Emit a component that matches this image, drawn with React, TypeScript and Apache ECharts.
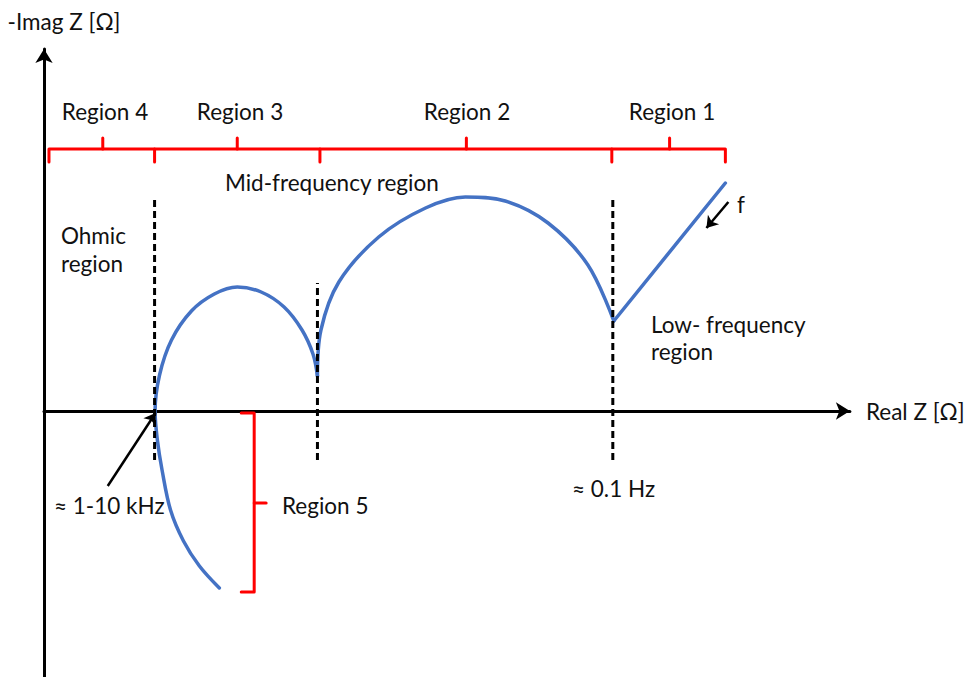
import React, { useEffect, useRef } from "react";
import * as echarts from "echarts";

// Nyquist schematic, units: arbitrary Ω (x = Real Z, y = -Imag Z)
const inductiveAndRegion3Arc: [number, number][] = [
  [176, -177], [156, -155], [140, -130], [127, -99], [118.5, -59], [113.8, -29], [111.5, 0],
  [116, 36], [128, 71], [148, 100], [171, 117], [194, 124], [218, 119], [241, 104], [259, 81], [270, 57], [274.5, 35],
];
const region2Arc: [number, number][] = [
  [274.5, 35], [278, 81], [296, 129], [336, 174], [383, 203], [423, 214], [463, 210], [506, 188], [546, 146], [572, 90],
];
const diffusionLine: [number, number][] = [[572, 90], [684, 228]];

const boundaryX = [111, 274.5, 571];
const boundaryTop = [213, 128, 215];
const boundaryBottom = -49;

// top bracket (regions 4,3,2,1)
const bracketLevel = 262;
const bracketDown = 249;
const bracketUp = 273;
const bracketEdges = [5, 111, 277, 570, 684];
const bracketCentres = [59, 194, 424, 628];
const regionNames = ["Region 4", "Region 3", "Region 2", "Region 1"];

// region 5 bracket
const r5X = 211;
const r5Top = -2;
const r5Bottom = -181;
const r5Left = 198;
const r5Mid = -92;
const r5Right = 223;

const khzArrow: [number, number][] = [[64, -75], [112, -2]];
const freqArrow: [number, number][] = [[687, 209], [665, 183]];

const X_MAX = 809;
const Y_MIN = -266;
const Y_MAX = 362;

const FONT = "Lato, 'Open Sans', sans-serif";
const FS = 22.5;
const TXT = "#111111";
const BLUE = "#4472C4";
const RED = "#FF0000";

function seg(data: [number, number][], color: string, width: number) {
  return {
    type: "line",
    data,
    symbol: "none",
    silent: true,
    lineStyle: { color, width, cap: "round", join: "round" },
  };
}

export default function App() {
  const ref = useRef<HTMLDivElement>(null);
  useEffect(() => {
    if (!ref.current) return;
    const chart = echarts.init(ref.current, undefined, { renderer: "svg" });

    const series: any[] = [];
    series.push({ ...seg(inductiveAndRegion3Arc, BLUE, 3.5), smooth: 0.35, z: 3 });
    series.push({ ...seg(region2Arc, BLUE, 3.5), smooth: 0.35, z: 3 });
    series.push({ ...seg(diffusionLine, BLUE, 3.5), z: 3 });
    boundaryX.forEach((x, i) => {
      series.push({
        type: "line",
        data: [[x, boundaryBottom], [x, boundaryTop[i]]],
        symbol: "none",
        silent: true,
        z: 4,
        lineStyle: { color: "#000", width: 3, type: [7, 4] },
      });
    });
    // top bracket
    series.push({
      ...seg([[bracketEdges[0], bracketDown], [bracketEdges[0], bracketLevel], [bracketEdges[4], bracketLevel], [bracketEdges[4], bracketDown]], RED, 3),
      z: 3,
    });
    bracketEdges.slice(1, 4).forEach((x) => {
      series.push({ ...seg([[x, bracketLevel], [x, bracketDown]], RED, 3), z: 3 });
    });
    bracketCentres.forEach((x) => {
      series.push({ ...seg([[x, bracketLevel], [x, bracketUp]], RED, 3), z: 3 });
    });
    // region 5 bracket
    series.push({ ...seg([[r5Left, r5Top], [r5X, r5Top], [r5X, r5Bottom], [r5Left, r5Bottom]], RED, 3), z: 3 });
    series.push({ ...seg([[r5X, r5Mid], [r5Right, r5Mid]], RED, 3), z: 3 });
    // arrows
    series.push({
      type: "line",
      data: [],
      silent: true,
      markLine: {
        silent: true,
        symbol: ["none", "arrow"],
        symbolSize: 11,
        label: { show: false },
        lineStyle: { color: "#000", width: 2.5, type: "solid" },
        data: [
          [{ coord: khzArrow[0] }, { coord: khzArrow[1] }],
          [{ coord: freqArrow[0] }, { coord: freqArrow[1] }],
        ],
      },
    });

    const text = (t: string, x: number, y: number, align: string = "left", extra: any = {}) => ({
      type: "text",
      x,
      y,
      silent: true,
      style: {
        text: t,
        fill: TXT,
        font: `${FS}px ${FONT}`,
        textAlign: align,
        textVerticalAlign: "middle",
        ...extra,
      },
    });

    const regionCentresPx = [105, 240, 467, 672];
    const graphic: any[] = [
      ...regionNames.map((n, i) => text(n, regionCentresPx[i], 111, "center")),
      text("Mid-frequency region", 225, 182),
      text("Ohmic\nregion", 61, 249, "left", { lineHeight: 28 }),
      text("Low- frequency\nregion", 651, 338, "left", { lineHeight: 27 }),
      text("≈ 1-10 kHz", 54, 505),
      text("≈ 0.1 Hz", 572, 488),
      text("Region 5", 282, 505),
      text("f", 737, 204),
    ];

    chart.setOption({
      animation: false,
      backgroundColor: "#ffffff",
      grid: { left: 44, right: 967 - 853, top: 49, bottom: 0, containLabel: false },
      xAxis: {
        type: "value",
        min: 0,
        max: X_MAX,
        name: "Real Z [Ω]",
        nameLocation: "end",
        nameGap: 16,
        nameTextStyle: { color: TXT, fontSize: FS, fontFamily: FONT, padding: [0, 0, 12, 0] },
        axisLine: { show: true, onZero: true, symbol: ["none", "arrow"], symbolSize: [13, 14], lineStyle: { color: "#000", width: 3 } },
        axisTick: { show: false },
        axisLabel: { show: false },
        splitLine: { show: false },
      },
      yAxis: {
        type: "value",
        min: Y_MIN,
        max: Y_MAX,
        name: "-Imag Z [Ω]",
        nameLocation: "end",
        nameGap: 16,
        nameTextStyle: { color: TXT, fontSize: FS, fontFamily: FONT, padding: [0, 0, 0, 40] },
        axisLine: { show: true, onZero: false, symbol: ["none", "arrow"], symbolSize: [13, 14], lineStyle: { color: "#000", width: 3 } },
        axisTick: { show: false },
        axisLabel: { show: false },
        splitLine: { show: false },
      },
      series,
      graphic,
    });
    return () => chart.dispose();
  }, []);

  return (
    <div
      ref={ref}
      style={{ position: "absolute", left: 0, top: 0, width: 967, height: 677, background: "#fff" }}
    />
  );
}
